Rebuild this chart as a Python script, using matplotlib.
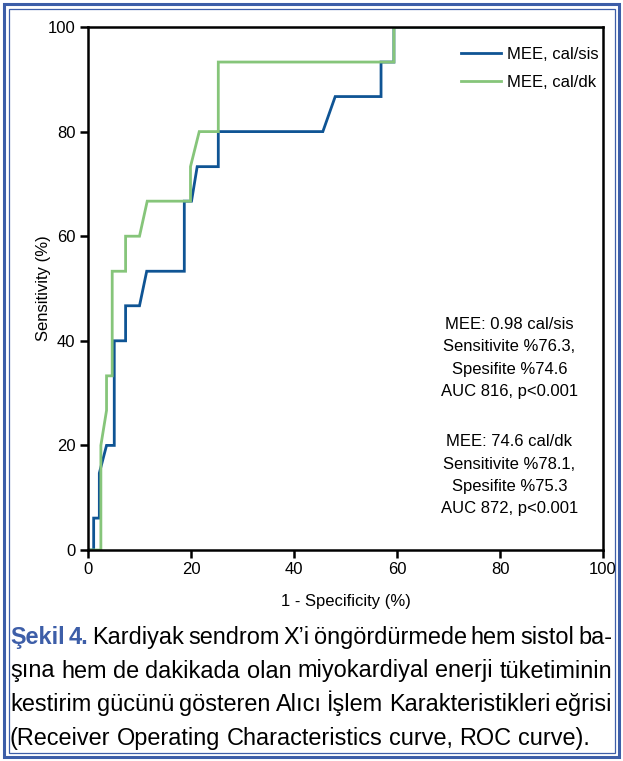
import matplotlib
matplotlib.use("Agg")
import matplotlib.pyplot as plt
from matplotlib.patches import Rectangle

plt.rcParams['font.family'] = ['Liberation Sans', 'DejaVu Sans']

# ROC curves (1 - specificity %, sensitivity %)
fpr_sis  = [0, 1.1, 1.1, 2.2, 2.2, 3.6, 5.1, 5.1, 7.3, 7.3, 10.0, 11.4, 18.7, 18.7, 20.1, 21.2, 25.3, 25.3, 45.6, 48.0, 56.9, 56.9, 59.4, 59.4, 100]
sens_sis = [0, 0, 6.1, 6.1, 14.7, 20.0, 20.0, 40.0, 40.0, 46.7, 46.7, 53.3, 53.3, 66.7, 66.7, 73.3, 73.3, 80.0, 80.0, 86.7, 86.7, 93.3, 93.3, 100, 100]

fpr_dk  = [0, 2.5, 2.5, 3.6, 3.6, 4.7, 4.7, 7.3, 7.3, 10.0, 11.5, 19.9, 19.9, 21.6, 25.3, 25.3, 59.4, 59.4, 100]
sens_dk = [0, 0, 20.0, 26.7, 33.3, 33.3, 53.3, 53.3, 60.0, 60.0, 66.7, 66.7, 73.3, 80.0, 80.0, 93.3, 93.3, 100, 100]

labels = ["MEE, cal/sis", "MEE, cal/dk"]
ticks = [0, 20, 40, 60, 80, 100]

note_sis = "MEE: 0.98 cal/sis\nSensitivite %76.3,\nSpesifite %74.6\nAUC 816, p<0.001"
note_dk = "MEE: 74.6 cal/dk\nSensitivite %78.1,\nSpesifite %75.3\nAUC 872, p<0.001"

caption = [
    "Kardiyak sendrom X’i öngördürmede hem sistol ba-",
    "şına hem de dakikada olan miyokardiyal enerji tüketiminin",
    "kestirim gücünü gösteren Alıcı İşlem Karakteristikleri eğrisi",
    "(Receiver Operating Characteristics curve, ROC curve).",
]

blue = "#0f5494"
green = "#86c57a"
frame_blue = "#3d5ea8"

W, H = 623, 761
fig = plt.figure(figsize=(W / 100, H / 100), dpi=100)
ax = fig.add_axes([88 / W, 1 - 550 / H, (603 - 88) / W, (550 - 27) / H])

ax.plot(fpr_sis, sens_sis, color=blue, lw=2.0, label=labels[0], solid_joinstyle='miter')
ax.plot(fpr_dk, sens_dk, color=green, lw=2.0, label=labels[1], solid_joinstyle='miter')

ax.set_xlim(0, 100)
ax.set_ylim(0, 100)
ax.set_xticks(ticks)
ax.set_yticks(ticks)
for s in ax.spines.values():
    s.set_linewidth(1.8)
ax.tick_params(width=1.8, length=6, labelsize=12, pad=3)
ax.set_xlabel("1 - Specificity (%)", fontsize=12, labelpad=12)
ax.set_ylabel("Sensitivity (%)", fontsize=12, labelpad=-2)

ax.legend(loc="upper right", frameon=False, fontsize=12, handlelength=2.4,
          handletextpad=0.4, labelspacing=0.75, bbox_to_anchor=(1.021, 0.99))

ax.text(0.818, 0.367, note_sis, transform=ax.transAxes, ha="center", va="center",
        fontsize=12, linespacing=1.6)
ax.text(0.818, 0.143, note_dk, transform=ax.transAxes, ha="center", va="center",
        fontsize=12, linespacing=1.6)

# double blue frame around figure
fig.patches.append(Rectangle((4 / W, 4 / H), (W - 8) / W, (H - 8) / H, transform=fig.transFigure,
                             fill=False, ec=frame_blue, lw=2.2))
fig.patches.append(Rectangle((8.5 / W, 8.5 / H), (W - 17) / W, (H - 17) / H, transform=fig.transFigure,
                             fill=False, ec=frame_blue, lw=0.9))

# justified caption
fs = 16.9
left, right = 10, 612
baselines = [644, 677.5, 711, 745]
renderer = fig.canvas.get_renderer()

def word_items(i, line):
    items = []
    if i == 0:
        items.append(("Şekil", dict(color=frame_blue, weight="bold")))
        items.append(("4.", dict(color=frame_blue, weight="bold")))
    for w in line.split(" "):
        items.append((w, dict(color="black")))
    return items

for i, line in enumerate(caption):
    y = 1 - baselines[i] / H
    items = word_items(i, line)
    objs = [fig.text(0, y, w, fontsize=fs, va="baseline", ha="left", **kw) for w, kw in items]
    widths = [o.get_window_extent(renderer).width for o in objs]
    if i < len(caption) - 1:
        gap = (right - left - sum(widths)) / (len(objs) - 1)
    else:
        sp = fig.text(0, 0, "a a", fontsize=fs)
        sp2 = fig.text(0, 0, "aa", fontsize=fs)
        gap = sp.get_window_extent(renderer).width - sp2.get_window_extent(renderer).width
        sp.remove()
        sp2.remove()
    x = left
    for o, wdt in zip(objs, widths):
        o.set_x(x / W)
        x += wdt + gap

fig.savefig("out.png", dpi=100)
